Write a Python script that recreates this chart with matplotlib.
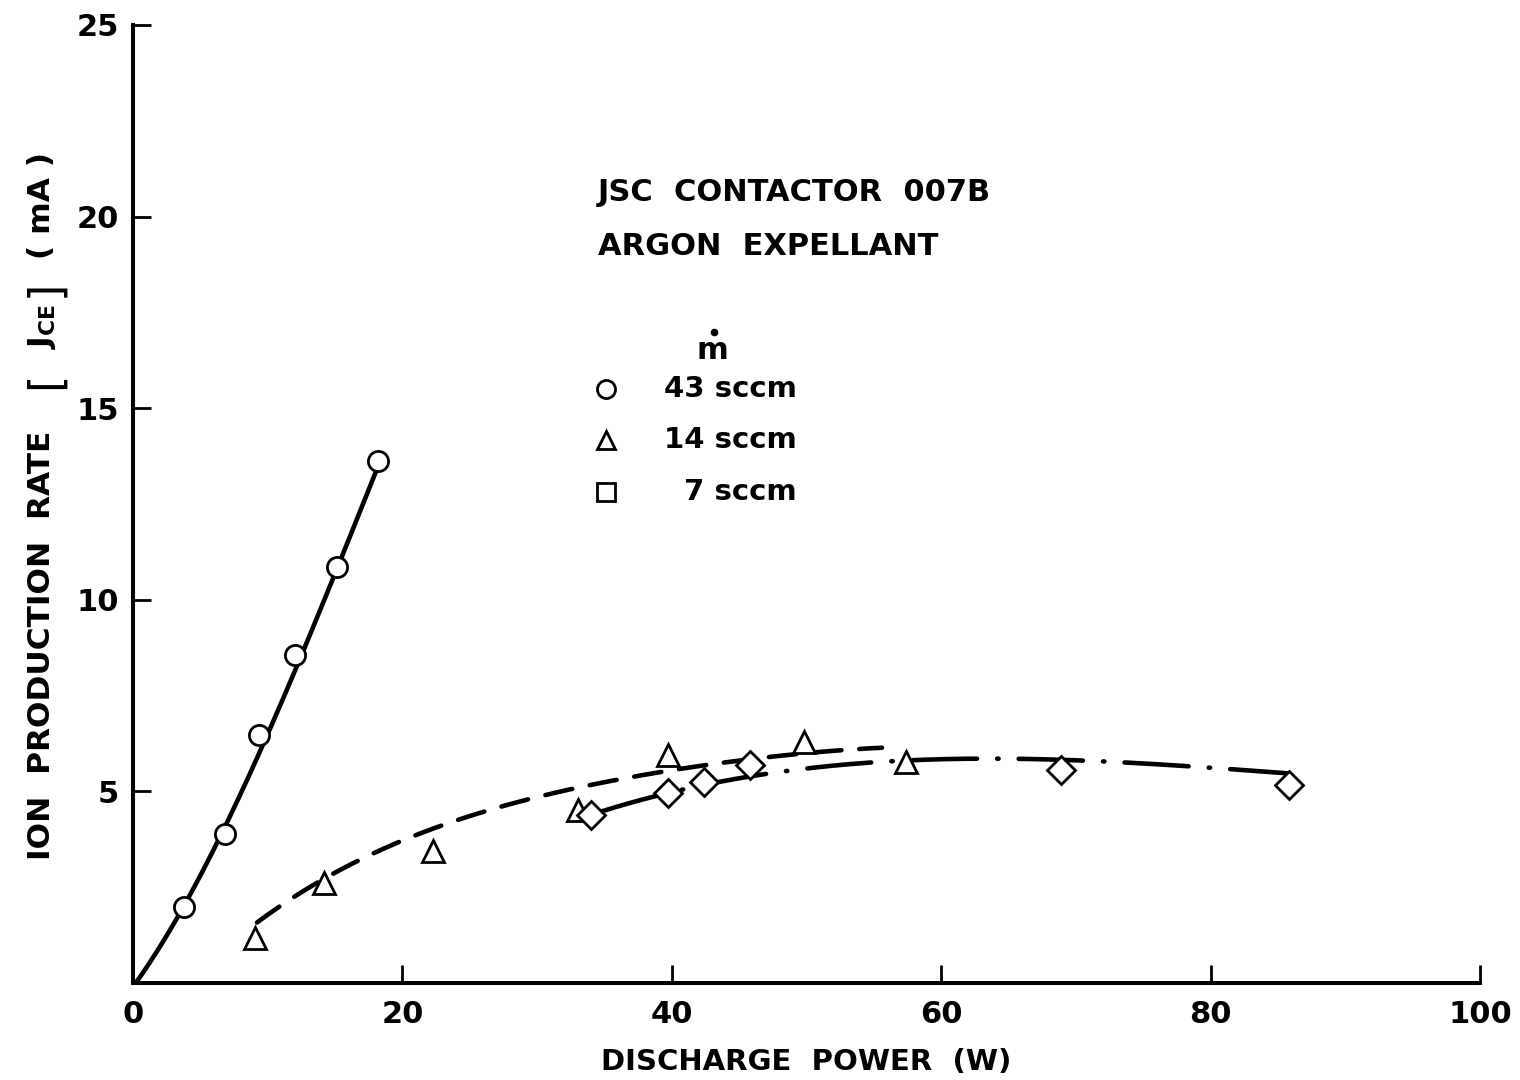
import numpy as np
import matplotlib
matplotlib.use("Agg")
import matplotlib.pyplot as plt

# ---- data ----
# 43 sccm (circles)
p43 = [3.8, 6.8, 9.35, 12.05, 15.15, 18.2]
j43 = [1.98, 3.9, 6.47, 8.56, 10.86, 13.62]
# 14 sccm (triangles)
p14 = [9.05, 14.2, 22.3, 33.0, 39.7, 49.8, 57.4]
j14 = [1.17, 2.6, 3.44, 4.51, 5.95, 6.3, 5.77]
# 7 sccm (diamonds)
p7 = [34.0, 39.7, 42.4, 45.8, 68.9, 85.8]
j7 = [4.38, 4.96, 5.25, 5.69, 5.56, 5.17]

# fitted curves as drawn in the reference
c43_x = [0.2, 3.7, 6.7, 9.8, 12.6, 15.2, 18.2]
c43_y = [0.0, 1.98, 3.9, 6.47, 8.56, 10.86, 13.5]
c14_x = [9.2, 11.5, 14.2, 17.1, 21.1, 23.8, 27.1, 30.4, 34.4, 37.7, 41.4, 47.0, 50.3, 55.6]
c14_y = [1.57, 2.17, 2.69, 3.29, 3.81, 4.25, 4.6, 4.9, 5.2, 5.38, 5.64, 5.87, 6.04, 6.13]
c7_x = [34.7, 38.4, 42.3, 45.7, 50.3, 54.7, 59.4, 63.6, 68.1, 73.8, 79.7, 85.7]
c7_y = [4.46, 4.83, 5.22, 5.38, 5.56, 5.74, 5.85, 5.87, 5.85, 5.74, 5.61, 5.48]

xticks = [0, 20, 40, 60, 80, 100]
yticks = [5, 10, 15, 20, 25]

legend_labels = ["43 sccm", "14 sccm", "7 sccm"]

plt.rcParams['font.family'] = ['DejaVu Sans']
plt.rcParams['mathtext.fontset'] = 'dejavusans'
fig = plt.figure(figsize=(15.2, 10.8), dpi=100)
ax = fig.add_axes([133/1520, 97/1080, 1347/1520, 958/1080])
ax.set_xlim(0, 100)
ax.set_ylim(0, 25)

def smooth(xs, ys, deg=3):
    c = np.polyfit(xs, ys, deg)
    xx = np.linspace(min(xs), max(xs), 300)
    return xx, np.polyval(c, xx)

lw = 3.3
xx, yy = smooth(c43_x, c43_y, 3)
ax.plot(xx, yy, color='black', lw=lw, solid_capstyle='round', zorder=2)
xx, yy = smooth(c14_x, c14_y, 4)
l14, = ax.plot(xx, yy, color='black', lw=lw, zorder=2, dash_capstyle='round')
l14.set_dashes([6.0, 3.9])
xx, yy = smooth(c7_x, c7_y, 4)
l7, = ax.plot(xx, yy, color='black', lw=lw, zorder=2, dash_capstyle='round')
l7.set_dashes([14, 4.4, 0.3, 4.4])

mk = dict(color='black', markerfacecolor='white', markeredgecolor='black',
          markeredgewidth=2.0, linestyle='none', zorder=3)
ax.plot(p43, j43, marker='o', markersize=14.5, **mk)
ax.plot(p14, j14, marker='^', markersize=15.5, **mk)
ax.plot(p7, j7, marker='D', markersize=14, **mk)

# axes styling
for s in ['top', 'right']:
    ax.spines[s].set_visible(False)
for s in ['left', 'bottom']:
    ax.spines[s].set_linewidth(2.9)
ax.set_xticks(xticks)
ax.set_yticks(yticks)
ax.tick_params(axis='both', direction='in', length=13, width=2.0,
               labelsize=22, pad=10)
ax.tick_params(axis='x', pad=12)
for lab in ax.get_xticklabels() + ax.get_yticklabels():
    lab.set_fontweight('bold')
ax.set_xlabel('DISCHARGE  POWER  (W)', fontsize=21, fontweight='bold', labelpad=14)

# y-axis label built from pieces (large brackets as in the reference)
ylab_x = 42 / 1520
def fy(py):
    return 1 - py / 1080
fig.text(ylab_x, fy(645), 'ION  PRODUCTION  RATE', rotation=90, fontsize=22.5,
         fontweight='bold', ha='center', va='center')
fig.text(ylab_x + 0.002, fy(380), '[', rotation=90, fontsize=32,
         ha='center', va='center')
fig.text(ylab_x, fy(326), r'$\mathbf{J}_{\mathbf{CE}}$', rotation=90, fontsize=22.5,
         ha='center', va='center')
fig.text(ylab_x + 0.002, fy(288), ']', rotation=90, fontsize=32,
         ha='center', va='center')
fig.text(ylab_x, fy(205), '( mA )', rotation=90, fontsize=22.5,
         fontweight='bold', ha='center', va='center')

# annotation block
ax.text(0.345, 0.825, 'JSC  CONTACTOR  007B', transform=ax.transAxes,
        fontsize=22, fontweight='bold', va='center', ha='left')
ax.text(0.345, 0.769, 'ARGON  EXPELLANT', transform=ax.transAxes,
        fontsize=22, fontweight='bold', va='center', ha='left')
ax.text(0.430, 0.660, 'm', transform=ax.transAxes,
        fontsize=22, fontweight='bold', va='center', ha='center')
ax.plot([0.431], [0.680], marker='o', markersize=4.5, color='black',
        transform=ax.transAxes, clip_on=False, linestyle='none')
leg_markers = ['o', '^', 's']
leg_y = [0.620, 0.567, 0.513]
for m, yv, lab in zip(leg_markers, leg_y, legend_labels):
    ax.plot([0.351], [yv], marker=m, markersize=13, transform=ax.transAxes,
            color='black', markerfacecolor='white', markeredgewidth=2.0,
            linestyle='none', clip_on=False)
    ax.text(0.493, yv, lab, transform=ax.transAxes, fontsize=21,
            fontweight='bold', va='center', ha='right')

fig.savefig('out.png', dpi=100)
